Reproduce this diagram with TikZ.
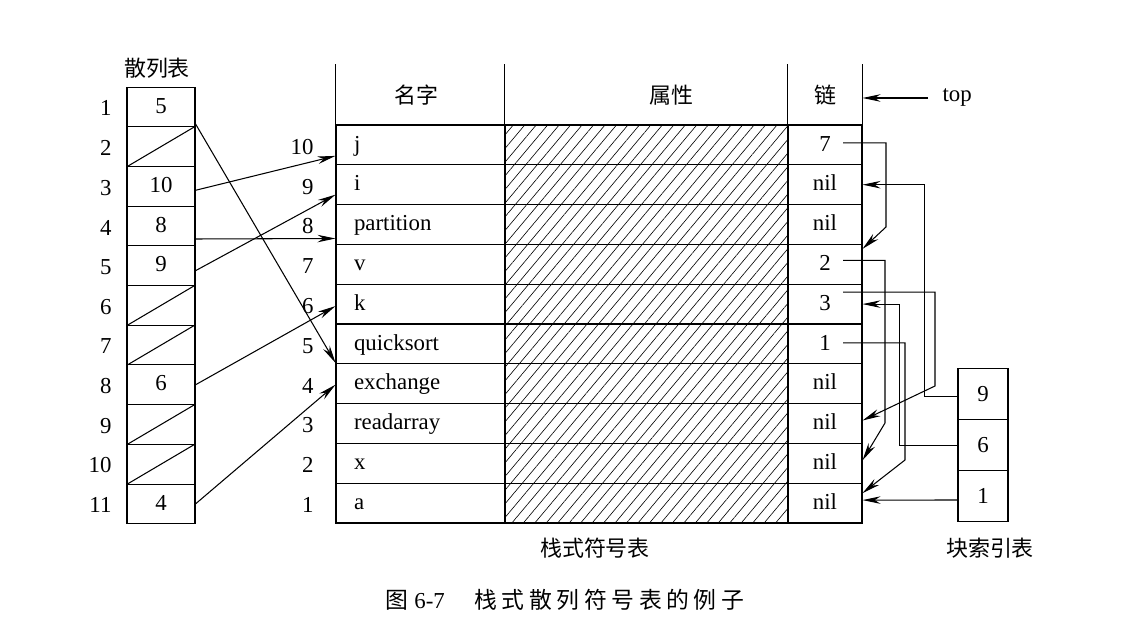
\documentclass[tikz,border=0pt]{standalone}
\usepackage{fontspec}
\setmainfont{Liberation Serif}
\newfontfamily\cjk{Noto Sans CJK SC}
\newfontfamily\capfont[LetterSpace=20]{Noto Sans CJK SC}
\usetikzlibrary{arrows.meta,calc,patterns.meta}

\begin{document}
\begin{tikzpicture}[x=0.02cm,y=-0.02cm,line width=0.6pt,font=\fontsize{13}{15}\selectfont]
		\useasboundingbox (0,0) rectangle (1141,641);
		
		\tikzstyle{hashcell}=[rectangle,
		draw=black,
		minimum width=1.36cm,
		minimum height=0.794cm,
		text height=0.7em,
		text depth=0pt,
		inner sep=0pt
		]
		\tikzstyle{namecell}=[rectangle,
		draw=black,
		minimum height=0.796cm,
		text width=2.66cm,
		text height=0.7em,
		text depth=0pt,
		align=left,
		inner xsep=0.36cm,
		inner ysep=0pt
		]
		\tikzstyle{attrcell}=[rectangle,
		draw=black,
		minimum width=5.66cm,
		minimum height=0.796cm,
		pattern={Lines[angle=50,distance=5pt,line width=0.35pt]}
		]
		\tikzstyle{chaincell}=[rectangle,
		draw=black,
		minimum width=1.48cm,
		minimum height=0.796cm,
		text height=0.7em,
		text depth=0pt,
		inner sep=0pt
		]
		\tikzstyle{idxcell}=[rectangle,
		draw=black,
		minimum width=1cm,
		minimum height=1.02cm,
		inner sep=0pt
		]
		\tikzstyle{head}=[rectangle,
		minimum height=1.2cm,
		inner sep=0pt
		]
		\tikzstyle{cjktext}=[font=\cjk\fontsize{12.5}{15}\selectfont]
		\tikzstyle{rownum}=[anchor=east, inner sep=0pt]
		\tikzstyle{arr}=[-{Stealth[length=3.6mm,width=1.5mm]}]
		
		% hash table
		\node[cjktext] (thash) at (157,68) {散列表};
		\node[hashcell] (h1) at (161,106.9) {5};
		\node[hashcell] (h2) at (161,146.6) {};
		\node[hashcell] (h3) at (161,186.3) {10};
		\node[hashcell] (h4) at (161,226.0) {8};
		\node[hashcell] (h5) at (161,265.7) {9};
		\node[hashcell] (h6) at (161,305.4) {};
		\node[hashcell] (h7) at (161,345.1) {};
		\node[hashcell] (h8) at (161,384.8) {6};
		\node[hashcell] (h9) at (161,424.5) {};
		\node[hashcell] (h10) at (161,464.2) {};
		\node[hashcell] (h11) at (161,503.9) {4};
		
		\node[rownum] (r1) at (112,108) {1};
		\node[rownum] (r2) at (112,148) {2};
		\node[rownum] (r3) at (112,188) {3};
		\node[rownum] (r4) at (112,227.5) {4};
		\node[rownum] (r5) at (112,267) {5};
		\node[rownum] (r6) at (112,307) {6};
		\node[rownum] (r7) at (112,346.5) {7};
		\node[rownum] (r8) at (112,386) {8};
		\node[rownum] (r9) at (112,426) {9};
		\node[rownum] (r10) at (112,465.5) {10};
		\node[rownum] (r11) at (112,505) {11};
		
		\draw[-] (h2.south west) -- (h2.north east);
		\draw[-] (h6.south west) -- (h6.north east);
		\draw[-] (h7.south west) -- (h7.north east);
		\draw[-] (h9.south west) -- (h9.north east);
		\draw[-] (h10.south west) -- (h10.north east);
		
		% stack symbol table
		\node[head,minimum width=3.38cm] (hname) at (420.5,95) {};
		\node[head,minimum width=5.66cm] (hattr) at (646.5,95) {};
		\node[head,minimum width=1.48cm] (hchain) at (825,95) {};
		\draw[-] (hname.north west) -- (hname.south west);
		\draw[-] (hattr.north west) -- (hattr.south west);
		\draw[-] (hchain.north west) -- (hchain.south west);
		\draw[-] (hchain.north east) -- (hchain.south east);
		\node[cjktext] (tname) at (416,95) {名字};
		\node[cjktext] (tattr) at (671,95) {属性};
		\node[cjktext] (tchain) at (825,95) {链};
		
		\node[namecell] (n10) at (420.5,144.9) {j};
		\node[namecell] (n9) at (420.5,184.7) {i};
		\node[namecell] (n8) at (420.5,224.5) {partition};
		\node[namecell] (n7) at (420.5,264.3) {v};
		\node[namecell] (n6) at (420.5,304.1) {k};
		\node[namecell] (n5) at (420.5,343.9) {quicksort};
		\node[namecell] (n4) at (420.5,383.7) {exchange};
		\node[namecell] (n3) at (420.5,423.5) {readarray};
		\node[namecell] (n2) at (420.5,463.3) {x};
		\node[namecell] (n1) at (420.5,503.1) {a};
		
		\node[attrcell] (a10) at (646.5,144.9) {};
		\node[attrcell] (a9) at (646.5,184.7) {};
		\node[attrcell] (a8) at (646.5,224.5) {};
		\node[attrcell] (a7) at (646.5,264.3) {};
		\node[attrcell] (a6) at (646.5,304.1) {};
		\node[attrcell] (a5) at (646.5,343.9) {};
		\node[attrcell] (a4) at (646.5,383.7) {};
		\node[attrcell] (a3) at (646.5,423.5) {};
		\node[attrcell] (a2) at (646.5,463.3) {};
		\node[attrcell] (a1) at (646.5,503.1) {};
		
		\node[chaincell] (c10) at (825,144.9) {7};
		\node[chaincell] (c9) at (825,184.7) {nil};
		\node[chaincell] (c8) at (825,224.5) {nil};
		\node[chaincell] (c7) at (825,264.3) {2};
		\node[chaincell] (c6) at (825,304.1) {3};
		\node[chaincell] (c5) at (825,343.9) {1};
		\node[chaincell] (c4) at (825,383.7) {nil};
		\node[chaincell] (c3) at (825,423.5) {nil};
		\node[chaincell] (c2) at (825,463.3) {nil};
		\node[chaincell] (c1) at (825,503.1) {nil};
		
		\node[rownum] (s10) at (314,146.9) {10};
		\node[rownum] (s9) at (314,186.7) {9};
		\node[rownum] (s8) at (314,226.5) {8};
		\node[rownum] (s7) at (314,266.3) {7};
		\node[rownum] (s6) at (314,306.1) {6};
		\node[rownum] (s5) at (314,345.9) {5};
		\node[rownum] (s4) at (314,385.7) {4};
		\node[rownum] (s3) at (314,425.5) {3};
		\node[rownum] (s2) at (314,465.3) {2};
		\node[rownum] (s1) at (314,505.1) {1};
		
		\node[cjktext] (tstack) at (595,548) {栈式符号表};
		
		% top pointer
		\node[anchor=west,inner sep=0pt] (top) at (942,98) {top};
		\draw[arr] ($(top.west)+(-14,0)$) -- (top.west -| hchain.east);
		
		% block index table
		\node[idxcell] (b9) at (983,394) {9};
		\node[idxcell] (b6) at (983,445) {6};
		\node[idxcell] (b1) at (983,496) {1};
		\node[cjktext] (tidx) at (990,548) {块索引表};
		
		% hash chains into the stack
		\draw[arr] ($(h1.east)+(0,17)$) -- ($(n5.west)+(0,19)$);
		\draw[arr] ($(h3.east)+(0,4)$) -- ($(n10.west)+(0,11)$);
		\draw[arr] ($(h4.east)+(0,13)$) -- ($(n8.west)+(0,14)$);
		\draw[arr] ($(h5.east)+(0,5)$) -- ($(n9.west)+(0,10)$);
		\draw[arr] ($(h8.east)+(0,0)$) -- ($(n6.west)+(0,2)$);
		\draw[arr] ($(h11.east)+(0,0)$) -- ($(n4.west)+(0,1)$);
		
		% links in the chain column
		\draw[arr] ($(c10.center)+(18,-2)$) -| (886,227) -- ($(c7.north east)+(0,5)$);
		\draw[arr] ($(c7.center)+(18,-4)$) -| (885,423) -- ($(c2.east)+(0,-3)$);
		\draw[arr] ($(c6.center)+(18,-12)$) -| (935,386) -- ($(c3.east)+(0,-3)$);
		\draw[arr] ($(c5.center)+(18,-1)$) -| (905,460) -- ($(c1.east)+(0,-10)$);
		
		% block index pointers
		\draw[arr] ($(b9.west)+(0,2.5)$) -| ($(c9.east)+(62,0)$) -- (c9.east);
		\draw[arr] ($(b6.west)+(0,0.5)$) -| ($(c6.east)+(37,0)$) -- (c6.east);
		\draw[arr] ($(b1.west)+(0,4)$) -- ($(c1.east)+(0,-3)$);
		
		\node (caption) at (565,600) {{\cjk 图} 6-7\hspace{1.3em}{\capfont 栈式散列符号表的例子}};
		
		\end{tikzpicture}
\end{document}
